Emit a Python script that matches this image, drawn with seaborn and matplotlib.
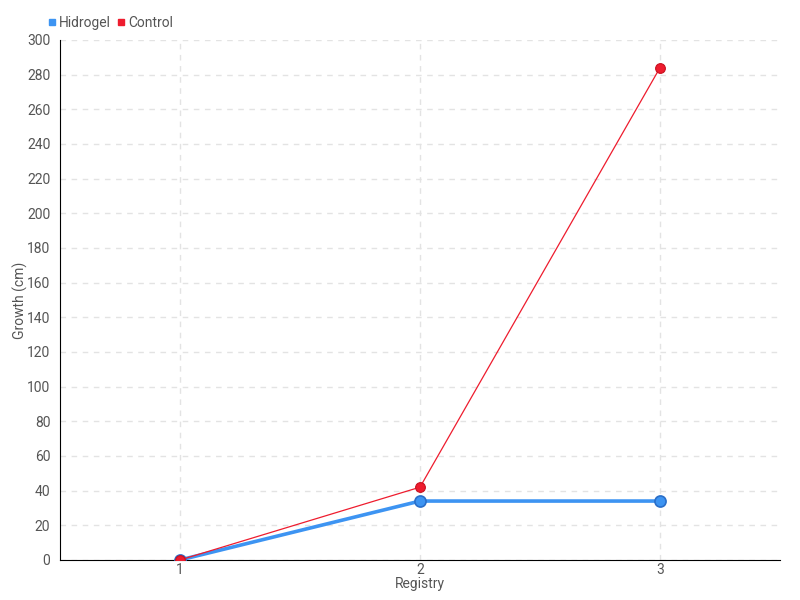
import pandas as pd
import matplotlib.pyplot as plt
import seaborn as sns
from matplotlib.lines import Line2D

registry = [1, 2, 3]
hidrogel = [0, 34, 34]
control = [0, 42, 284]

df = pd.DataFrame({
    "Registry": registry * 2,
    "Growth": hidrogel + control,
    "Series": ["Hidrogel"] * 3 + ["Control"] * 3,
})

sns.set_style("white")
plt.rcParams['font.family'] = ['Roboto', 'DejaVu Sans']

blue = "#3d94f2"
red = "#ee1c2e"

fig = plt.figure(figsize=(8, 6), dpi=100)
ax = fig.add_axes([0.075, 0.0667, 0.9, 0.8667])

h = df[df.Series == "Hidrogel"]
c = df[df.Series == "Control"]
sns.lineplot(data=h, x="Registry", y="Growth", ax=ax, color=blue, lw=2.6,
             marker="o", markersize=8, markeredgecolor="#2a6fc9", markeredgewidth=1.2, zorder=3)
sns.lineplot(data=c, x="Registry", y="Growth", ax=ax, color=red, lw=0.9,
             marker="o", markersize=7, markeredgecolor="#c8101f", markeredgewidth=0.8, zorder=4)

ax.set_xlim(0.5, 3.5)
ax.set_ylim(0, 300)
ax.set_xticks(registry)
ax.set_yticks(range(0, 301, 20))
ax.grid(True, color="#e3e3e3", linestyle=(0, (4, 4)), lw=1)
ax.set_axisbelow(True)
for s in ["top", "right"]:
    ax.spines[s].set_visible(False)
ax.spines["left"].set_color("black")
ax.spines["bottom"].set_color("black")
ax.tick_params(axis="y", length=5, width=1, color="#333333", labelcolor="#555555", labelsize=10, pad=2)
ax.tick_params(axis="x", direction="inout", length=12, width=1, color="#555555", labelcolor="#555555",
               labelsize=10, pad=-4)
ax.set_xlabel("Registry", color="#555555", fontsize=10)
ax.set_ylabel("Growth (cm)", color="#555555", fontsize=10)
ax.xaxis.set_label_coords(0.5, -0.032)
ax.yaxis.set_label_coords(-0.045, 0.5)

handles = [Line2D([], [], marker="s", color=blue, lw=0, markersize=5),
           Line2D([], [], marker="s", color=red, lw=0, markersize=5)]
ax.legend(handles, ["Hidrogel", "Control"], loc="lower left", bbox_to_anchor=(-0.03, 1.0),
          ncol=2, frameon=False, handlelength=0.6, handletextpad=0.2, columnspacing=0.4,
          fontsize=10, labelcolor="#555555", borderaxespad=0.3)

fig.savefig("out.png", dpi=100)
